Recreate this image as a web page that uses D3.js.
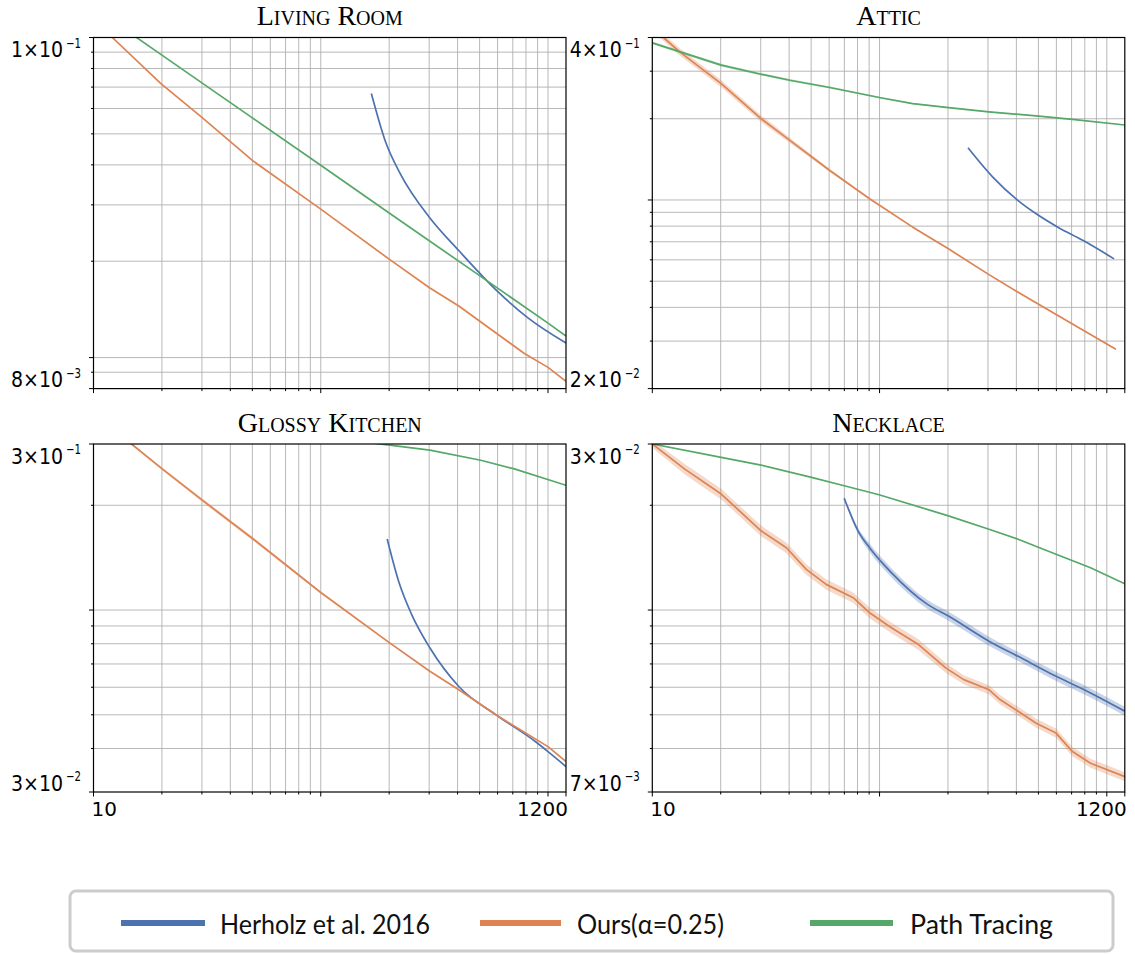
<!DOCTYPE html>
<html>
<head>
<meta charset="utf-8">
<script src="https://cdn.jsdelivr.net/npm/d3@7/dist/d3.min.js"></script>
<style>
  html, body { margin: 0; padding: 0; background: #fff; }
  svg { display: block; }
</style>
</head>
<body>
<svg id="chart" width="1135" height="954"></svg>
<script>
// ---------------- DATA ----------------
const panelTitles = ["Living Room", "Attic", "Glossy Kitchen", "Necklace"];
const seriesNames = ["Herholz et al. 2016", "Ours(\u03B1=0.25)", "Path Tracing"];
const seriesColors = ["#4c72b0", "#dd8452", "#55a868"];

const xDomain = [10, 1200];
const xTickLabels = ["10", "1200"];

const yDomains = [[0.008, 0.1], [0.02, 0.4], [0.03, 0.3], [0.003, 0.03]];
const yTopLabels = [["1\u00D710", "\u22121"], ["4\u00D710", "\u22121"], ["3\u00D710", "\u22121"], ["3\u00D710", "\u22122"]];
const yBottomLabels = [["8\u00D710", "\u22123"], ["2\u00D710", "\u22122"], ["3\u00D710", "\u22122"], ["7\u00D710", "\u22123"]];

// points: [spp, error, relative band half-width]
const livingHerholz = [[167, 0.0668], [192, 0.0476], [224, 0.0375], [301, 0.0274], [405, 0.0216], [608, 0.01595], [816, 0.0133], [1200, 0.0111]];
const livingOurs = [[10, 0.114], [12.1, 0.1], [19.8, 0.0718], [29.9, 0.0564], [50, 0.0413], [100, 0.0291], [200, 0.0203], [301, 0.01653], [405, 0.01449], [787, 0.01030], [1000, 0.00932], [1200, 0.00843]];
const livingPT = [[10, 0.124], [20, 0.0881], [50, 0.0561], [100, 0.0399], [200, 0.0283], [500, 0.01803], [1000, 0.01281], [1200, 0.01167]];

const atticHerholz = [[245, 0.1562], [315, 0.1216], [407, 0.0995], [489, 0.0889], [609, 0.0793], [788, 0.0707], [1076, 0.0605]];
const atticOurs = [[10, 0.436, 0.03], [11.2, 0.4, 0.03], [13.2, 0.354, 0.03], [20.1, 0.27, 0.03], [30.1, 0.2002, 0.028], [40.3, 0.1663, 0.022], [60.4, 0.1286, 0.012], [90.4, 0.101, 0.006], [140, 0.0793, 0.005], [201, 0.0659, 0.004], [303, 0.0529, 0.004], [407, 0.0455, 0.004], [706, 0.0347, 0.004], [1096, 0.028, 0.004]];
const atticPT = [[10, 0.382, 0.012], [20.1, 0.316, 0.012], [30.1, 0.2924, 0.01], [40.3, 0.2777, 0.01], [60.4, 0.261, 0.008], [101, 0.2393, 0.006], [140, 0.2275, 0.005], [201, 0.22, 0.004], [303, 0.212, 0.004], [489, 0.2048, 0.003], [706, 0.199, 0.003], [1200, 0.1896, 0.003]];

const glossyHerholz = [[196, 0.16], [221, 0.12], [251, 0.0972], [302, 0.0779], [405, 0.0603], [604, 0.0495], [879, 0.0419], [1000, 0.0392], [1200, 0.0355]];
const glossyOurs = [[10, 0.368, 0.005], [14.7, 0.3, 0.006], [20, 0.2548, 0.008], [30.2, 0.2065, 0.012], [50.4, 0.16, 0.012], [100, 0.1123, 0.006], [201, 0.0805, 0.004], [302, 0.0667, 0.003], [405, 0.059, 0.003], [604, 0.0495, 0.003], [1000, 0.0405, 0.003], [1200, 0.0367, 0.003]];
const glossyPT = [[150, 0.305], [201, 0.2976], [302, 0.288], [506, 0.2694], [705, 0.2548], [1200, 0.2283]];

const necklaceHerholz = [[69.9, 0.02096, 0.01], [80.4, 0.01689, 0.02], [90.4, 0.0151, 0.028], [112.7, 0.01281, 0.03], [162.6, 0.01038, 0.03], [201, 0.00961, 0.03], [303, 0.00814, 0.03], [407, 0.00736, 0.03], [598, 0.00645, 0.03], [848, 0.00578, 0.03], [1200, 0.00512, 0.03]];
const necklaceOurs = [[10, 0.03, 0.025], [13.9, 0.0254, 0.035], [20.1, 0.02154, 0.035], [30.1, 0.01689, 0.035], [38.9, 0.0151, 0.035], [47.6, 0.01309, 0.035], [58.2, 0.01185, 0.035], [76.6, 0.01085, 0.035], [90.4, 0.00982, 0.035], [112.7, 0.00889, 0.035], [148.4, 0.00796, 0.035], [195.4, 0.00682, 0.032], [234.7, 0.00631, 0.03], [303.4, 0.0059, 0.03], [338.8, 0.00553, 0.03], [407, 0.00512, 0.03], [489, 0.00473, 0.03], [598, 0.00443, 0.03], [706, 0.00392, 0.03], [848, 0.00363, 0.03], [1200, 0.00332, 0.03]];
const necklacePT = [[10, 0.03], [20.1, 0.02746], [30.1, 0.0261], [50.2, 0.02405], [69.9, 0.02276], [99.5, 0.02144], [201, 0.01865], [303, 0.01707], [407, 0.01597], [598, 0.01446], [848, 0.01323], [1200, 0.0119]];

const panelSeries = [
  [livingHerholz, livingOurs, livingPT],
  [atticHerholz, atticOurs, atticPT],
  [glossyHerholz, glossyOurs, glossyPT],
  [necklaceHerholz, necklaceOurs, necklacePT]
];

// ---------------- LAYOUT ----------------
const panelX = [[93.5, 566], [652.3, 1124.8], [93.5, 566], [652.3, 1124.8]];
const panelY = [[37.5, 388.6], [37.5, 388.6], [444, 792], [444, 792]];
const showXLabels = [false, false, true, true];
const seriesCurves = [d3.curveMonotoneX, d3.curveLinear, d3.curveLinear];

const svg = d3.select("#chart");
const defs = svg.append("defs");

const isDecade = v => Math.abs(Math.log10(v) - Math.round(Math.log10(v))) < 1e-9;
const inside = (v, d) => Math.abs(Math.log10(v) - Math.log10(d[0])) > 1e-6 && Math.abs(Math.log10(v) - Math.log10(d[1])) > 1e-6;

panelTitles.forEach((title, i) => {
  const [x0, x1] = panelX[i];
  const [y0, y1] = panelY[i];
  const x = d3.scaleLog().domain(xDomain).range([x0, x1]);
  const y = d3.scaleLog().domain(yDomains[i]).range([y1, y0]);
  const g = svg.append("g");

  defs.append("clipPath").attr("id", "clip" + i)
    .append("rect").attr("x", x0).attr("y", y0).attr("width", x1 - x0).attr("height", y1 - y0);

  // grid
  const xt = x.ticks().filter(v => inside(v, xDomain));
  const yt = y.ticks().filter(v => inside(v, yDomains[i]));
  const grid = g.append("g").attr("stroke", "#b0b0b0").attr("stroke-width", 0.9);
  grid.selectAll("line.gx").data(xt).join("line")
    .attr("x1", d => x(d)).attr("x2", d => x(d)).attr("y1", y0).attr("y2", y1);
  grid.selectAll("line.gy").data(yt).join("line")
    .attr("y1", d => y(d)).attr("y2", d => y(d)).attr("x1", x0).attr("x2", x1);

  const plot = g.append("g").attr("clip-path", "url(#clip" + i + ")");

  panelSeries[i].forEach((s, k) => {
    if (s.some(d => d[2])) {
      const area = d3.area()
        .x(d => x(d[0]))
        .y0(d => y(d[1] * (1 - (d[2] || 0))))
        .y1(d => y(d[1] * (1 + (d[2] || 0))))
        .curve(seriesCurves[k]);
      plot.append("path").attr("d", area(s)).attr("fill", seriesColors[k]).attr("fill-opacity", 0.3).attr("stroke", "none");
    }
  });
  panelSeries[i].forEach((s, k) => {
    const line = d3.line().x(d => x(d[0])).y(d => y(d[1])).curve(seriesCurves[k]);
    plot.append("path").attr("d", line(s)).attr("fill", "none")
      .attr("stroke", seriesColors[k]).attr("stroke-width", 1.7).attr("stroke-linejoin", "round");
  });

  // frame
  g.append("rect").attr("x", x0).attr("y", y0).attr("width", x1 - x0).attr("height", y1 - y0)
    .attr("fill", "none").attr("stroke", "#000").attr("stroke-width", 1.2);

  // ticks
  const tk = g.append("g").attr("stroke", "#000").attr("stroke-width", 1);
  const xTickVals = [xDomain[0]].concat(xt, [xDomain[1]]);
  tk.selectAll("line.tx").data(xTickVals).join("line")
    .attr("x1", d => x(d)).attr("x2", d => x(d)).attr("y1", y1)
    .attr("y2", d => y1 + ((isDecade(d) || !inside(d, xDomain)) ? 4.5 : 2.5));
  const yTickVals = [yDomains[i][0]].concat(yt, [yDomains[i][1]]);
  tk.selectAll("line.ty").data(yTickVals).join("line")
    .attr("y1", d => y(d)).attr("y2", d => y(d)).attr("x1", x0)
    .attr("x2", d => x0 - ((isDecade(d) || !inside(d, yDomains[i])) ? 4.5 : 2.5));

  // y labels (at the axis limits): mantissa and superscript exponent
  const yl = [[yTopLabels[i], y0 + 19.5], [yBottomLabels[i], y1 - 1.5]];
  yl.forEach(([lab, by]) => {
    g.append("text").attr("x", x0 - 30.5).attr("y", by)
      .attr("text-anchor", "end").attr("font-family", "DejaVu Sans").attr("font-size", 20.5).attr("fill", "#000")
      .attr("textLength", 52).attr("lengthAdjust", "spacingAndGlyphs").text(lab[0]);
    g.append("text").attr("x", x0 - 27.5).attr("y", by - 9.5)
      .attr("text-anchor", "start").attr("font-family", "DejaVu Sans").attr("font-size", 13.5).attr("fill", "#000")
      .attr("textLength", 15).attr("lengthAdjust", "spacingAndGlyphs").text(lab[1]);
  });

  // x labels
  if (showXLabels[i]) {
    g.append("text").attr("x", x(xDomain[0]) - 2).attr("y", y1 + 24).attr("text-anchor", "start")
      .attr("font-family", "DejaVu Sans").attr("font-size", 20).text(xTickLabels[0]);
    g.append("text").attr("x", x(xDomain[1]) + 2).attr("y", y1 + 24).attr("text-anchor", "end")
      .attr("font-family", "DejaVu Sans").attr("font-size", 20).text(xTickLabels[1]);
  }

  // title
  g.append("text").attr("x", (x0 + x1) / 2).attr("y", y0 - 12.5).attr("text-anchor", "middle")
    .attr("font-family", "Liberation Serif, DejaVu Serif, serif").attr("font-size", 28)
    .style("font-variant", "small-caps").text(title);
});

// ---------------- LEGEND ----------------
const legendLineX = [[121, 205], [480, 561], [810, 893]];
const legendTextX = [220, 577, 910];
const legendTextW = [210, 147, 143];
const lg = svg.append("g");
lg.append("rect").attr("x", 70).attr("y", 891).attr("width", 1043).attr("height", 60).attr("rx", 6)
  .attr("fill", "#fff").attr("stroke", "#cccccc").attr("stroke-width", 3);
seriesNames.forEach((name, k) => {
  lg.append("line").attr("x1", legendLineX[k][0]).attr("x2", legendLineX[k][1]).attr("y1", 923).attr("y2", 923)
    .attr("stroke", seriesColors[k]).attr("stroke-width", 6);
  lg.append("text").attr("x", legendTextX[k]).attr("y", 934)
    .attr("font-family", "Lato, Noto Sans, sans-serif").attr("font-size", 27)
    .attr("textLength", legendTextW[k]).attr("lengthAdjust", "spacingAndGlyphs")
    .attr("fill", "#111").text(name);
});
</script>
</body>
</html>
